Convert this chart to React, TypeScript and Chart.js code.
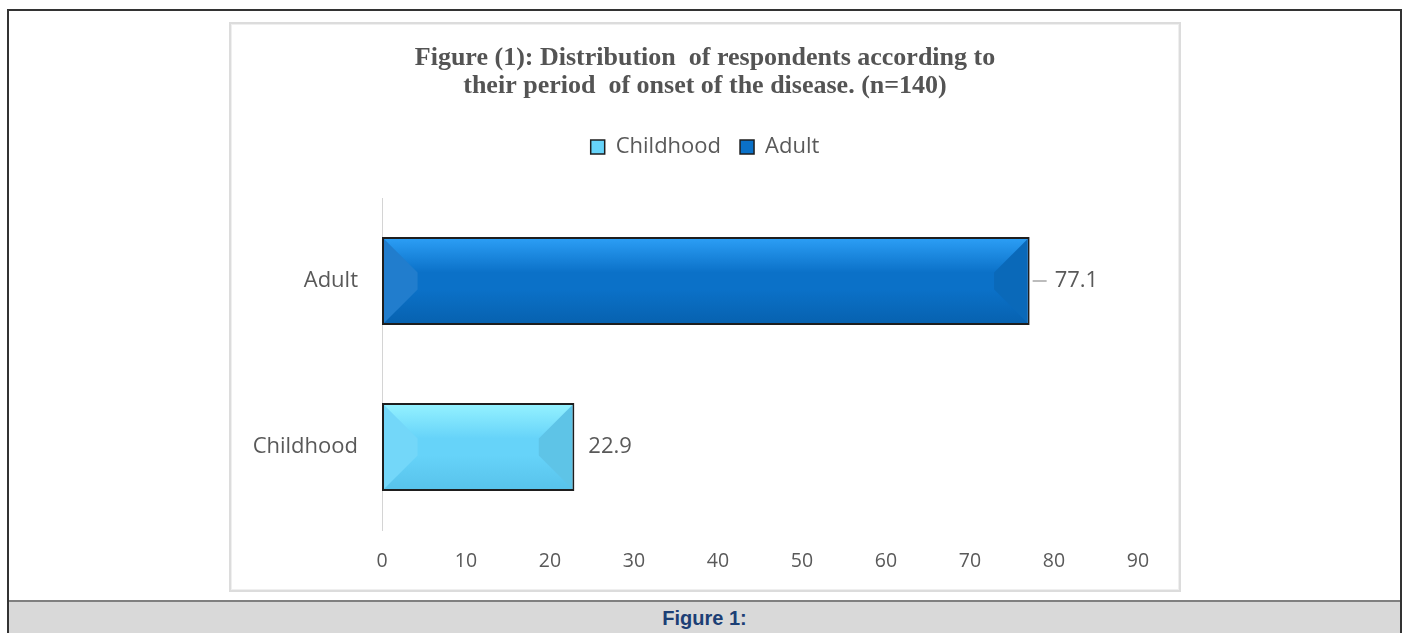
import React, { useEffect, useRef } from 'react';
import { Chart, registerables, layouts } from 'chart.js';

Chart.register(...registerables);

// ---- data ----
const CATEGORIES = ['Childhood', 'Adult'];
const PERCENTS = [22.9, 77.1];
const X_MIN = 0;
const X_MAX = 90;
const X_STEP = 10;
const TITLE_LINES = [
  'Figure (1): Distribution  of respondents according to',
  'their period  of onset of the disease. (n=140)',
];
const CAPTION = 'Figure 1:';

// ---- styles ----
const BAR_BASE = ['#66d3f9', '#0b71c8'];
const BAR_TOP = ['#93f1ff', '#2b9df4'];
const BAR_BOTTOM = ['#58c3eb', '#0762b0'];
const BAR_BORDER = '#1e1e1e';
const TEXT_GRAY = '#595959';
const LABEL_GAP = [14, 25];
const LABEL_LEADER = [false, true];

const CANVAS_W = 948;
const CANVAS_H = 566;

function makeSpacer(id: string, position: string, size: number, fullSize: boolean) {
  return {
    id,
    start(chart: any) {
      const horizontal = position === 'top' || position === 'bottom';
      const box: any = {
        id: id + 'Box',
        position,
        weight: 500,
        fullSize,
        options: {},
        left: 0, top: 0, right: 0, bottom: 0, width: 0, height: 0,
        update(maxWidth: number, maxHeight: number) {
          if (horizontal) {
            this.width = maxWidth;
            this.height = size;
          } else {
            this.width = size;
            this.height = maxHeight;
          }
        },
        isHorizontal() { return horizontal; },
        getPadding() { return { left: 0, right: 0, top: 0, bottom: 0 }; },
        draw() {},
      };
      layouts.addBox(chart, box);
    },
  };
}

const topSpacer = makeSpacer('legendSpacer', 'top', 30, true);
const rightSpacer = makeSpacer('rightSpacer', 'right', 41, false);

const bevelPlugin = {
  id: 'bevel',
  afterDatasetsDraw(chart: any) {
    const ctx = chart.ctx;
    const meta = chart.getDatasetMeta(0);
    meta.data.forEach((el: any, i: number) => {
      const { x, y, base, height } = el.getProps(['x', 'y', 'base', 'height'], true);
      const bw = 2;
      const L = Math.min(base, x) + bw;
      const R = Math.max(base, x) - bw;
      const T = y - height / 2 + bw;
      const B = y + height / 2 - bw;
      const d = Math.min((B - T) * 0.4, (R - L) / 2);
      ctx.save();
      ctx.beginPath();
      ctx.rect(L, T, R - L, B - T);
      ctx.clip();
      ctx.fillStyle = BAR_BASE[i];
      ctx.fillRect(L, T, R - L, B - T);
      const gt = ctx.createLinearGradient(0, T, 0, T + d);
      gt.addColorStop(0, BAR_TOP[i]);
      gt.addColorStop(1, BAR_BASE[i]);
      ctx.beginPath();
      ctx.moveTo(L, T); ctx.lineTo(R, T); ctx.lineTo(R - d, T + d); ctx.lineTo(L + d, T + d); ctx.closePath();
      ctx.fillStyle = gt; ctx.fill();
      const gb = ctx.createLinearGradient(0, B - d, 0, B);
      gb.addColorStop(0, BAR_BASE[i]);
      gb.addColorStop(1, BAR_BOTTOM[i]);
      ctx.beginPath();
      ctx.moveTo(L, B); ctx.lineTo(R, B); ctx.lineTo(R - d, B - d); ctx.lineTo(L + d, B - d); ctx.closePath();
      ctx.fillStyle = gb; ctx.fill();
      ctx.beginPath();
      ctx.moveTo(L, T); ctx.lineTo(L + d, T + d); ctx.lineTo(L + d, B - d); ctx.lineTo(L, B); ctx.closePath();
      ctx.fillStyle = 'rgba(255,255,255,0.09)'; ctx.fill();
      ctx.beginPath();
      ctx.moveTo(R, T); ctx.lineTo(R - d, T + d); ctx.lineTo(R - d, B - d); ctx.lineTo(R, B); ctx.closePath();
      ctx.fillStyle = 'rgba(0,0,0,0.07)'; ctx.fill();
      ctx.restore();
    });
  },
};

const valueLabelPlugin = {
  id: 'valueLabels',
  afterDatasetsDraw(chart: any) {
    const ctx = chart.ctx;
    const meta = chart.getDatasetMeta(0);
    const values = chart.data.datasets[0].data;
    meta.data.forEach((el: any, i: number) => {
      const { x, y } = el.getProps(['x', 'y'], true);
      ctx.save();
      if (LABEL_LEADER[i]) {
        ctx.strokeStyle = '#a6a6a6';
        ctx.lineWidth = 1.5;
        ctx.beginPath();
        ctx.moveTo(x + 3, y);
        ctx.lineTo(x + 17, y);
        ctx.stroke();
      }
      ctx.fillStyle = TEXT_GRAY;
      ctx.font = '22px "Open Sans"';
      ctx.textAlign = 'left';
      ctx.textBaseline = 'middle';
      ctx.fillText(String(values[i]), x + LABEL_GAP[i], y);
      ctx.restore();
    });
  },
};

function ChartCanvas() {
  const ref = useRef<HTMLCanvasElement | null>(null);
  useEffect(() => {
    if (!ref.current) return;
    const chart = new Chart(ref.current, {
      type: 'bar',
      data: {
        labels: CATEGORIES,
        datasets: [
          {
            label: 'Percent',
            data: PERCENTS,
            backgroundColor: BAR_BASE,
            borderColor: BAR_BORDER,
            borderWidth: 2,
            borderSkipped: false,
            barPercentage: 0.53,
            categoryPercentage: 1,
          },
        ],
      },
      options: {
        indexAxis: 'y',
        animation: false,
        responsive: false,
        maintainAspectRatio: false,
        devicePixelRatio: 1,
        layout: { padding: 0 },
        scales: {
          x: {
            type: 'linear',
            min: X_MIN,
            max: X_MAX,
            grid: { display: false, drawTicks: false },
            border: { display: false },
            ticks: {
              stepSize: X_STEP,
              padding: 20,
              color: TEXT_GRAY,
              font: { family: '"Open Sans"', size: 19.5 },
              maxRotation: 0,
            },
            afterFit: (scale: any) => { scale.height = 60; },
          },
          y: {
            type: 'category',
            reverse: true,
            grid: { display: false, drawTicks: false },
            border: { display: true, color: '#d4d4d4', width: 1 },
            ticks: {
              padding: 24,
              color: TEXT_GRAY,
              font: { family: '"Open Sans"', size: 22 },
            },
            afterFit: (scale: any) => { scale.width = 151; },
          },
        },
        plugins: {
          title: {
            display: true,
            text: TITLE_LINES,
            color: '#545454',
            font: { family: '"Liberation Serif", "Times New Roman", serif', size: 26, weight: 'bold', lineHeight: 27.5 / 26 },
            padding: { top: 21, bottom: 17 },
          },
          legend: {
            display: true,
            position: 'top',
            align: 'center',
            onClick: () => {},
            labels: {
              color: TEXT_GRAY,
              font: { family: '"Open Sans"', size: 22 },
              boxWidth: 14,
              boxHeight: 14,
              padding: 19,
              generateLabels: () =>
                CATEGORIES.map((c, i) => ({
                  text: c,
                  fillStyle: BAR_BASE[i],
                  strokeStyle: BAR_BORDER,
                  lineWidth: 1.5,
                  hidden: false,
                  index: i,
                  datasetIndex: 0,
                  fontColor: TEXT_GRAY,
                })),
            },
          },
          tooltip: { enabled: false },
        },
      },
      plugins: [topSpacer, rightSpacer, bevelPlugin, valueLabelPlugin],
    } as any);
    return () => chart.destroy();
  }, []);
  return (
    <canvas
      ref={ref}
      width={CANVAS_W}
      height={CANVAS_H}
      style={{ display: 'block', width: CANVAS_W, height: CANVAS_H }}
    />
  );
}

export default function App() {
  return (
    <div style={{ position: 'absolute', left: 0, top: 0, width: 1404, height: 633, overflow: 'hidden', background: '#ffffff' }}>
      <div
        style={{
          position: 'absolute', left: 7, top: 9, width: 1395, height: 640,
          border: '2px solid #333333', boxSizing: 'border-box', background: '#ffffff',
        }}
      />
      <div
        style={{
          position: 'absolute', left: 229, top: 22, width: 952, height: 570,
          border: '2px solid #dcdcdc', boxShadow: 'inset 0 0 0 1px #efefef',
          boxSizing: 'border-box', background: '#ffffff',
        }}
      >
        <ChartCanvas />
      </div>
      <div
        style={{
          position: 'absolute', left: 9, top: 600, width: 1391, height: 40,
          borderTop: '2px solid #808080', background: '#d9d9d9', boxSizing: 'border-box',
        }}
      >
        <div
          style={{
            position: 'absolute', left: 0, right: 0, top: 5, textAlign: 'center',
            fontFamily: '"Liberation Sans", Arial, sans-serif', fontWeight: 'bold',
            fontSize: 20, color: '#1c3f75', lineHeight: '22px',
          }}
        >
          {CAPTION}
        </div>
      </div>
    </div>
  );
}
